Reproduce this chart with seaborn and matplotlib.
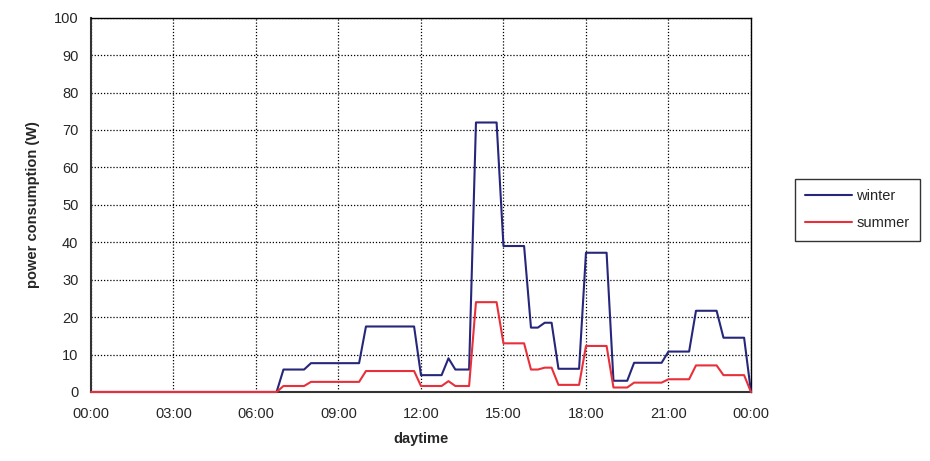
import numpy as np
import pandas as pd
import seaborn as sns
import matplotlib.pyplot as plt
from matplotlib.ticker import FixedLocator, FuncFormatter

# breakpoints of the daily profile (hour of day)
hours = [0, 6.75, 7, 7.75, 8, 9.75, 10, 11.75, 12, 12.75, 13, 13.25, 13.75,
         14, 14.75, 15, 15.75, 16, 16.25, 16.5, 16.75, 17, 17.75, 18, 18.75,
         19, 19.5, 19.75, 20.75, 21, 21.75, 22, 22.75, 23, 23.75, 24]
winter = [0, 0, 6, 6, 7.7, 7.7, 17.5, 17.5, 4.5, 4.5, 9, 6, 6,
          72, 72, 39, 39, 17.2, 17.2, 18.5, 18.5, 6.2, 6.2, 37.2, 37.2,
          3, 3, 7.8, 7.8, 10.8, 10.8, 21.7, 21.7, 14.5, 14.5, 0]
summer = [0, 0, 1.6, 1.6, 2.7, 2.7, 5.6, 5.6, 1.6, 1.6, 2.9, 1.6, 1.6,
          24, 24, 13, 13, 6, 6, 6.5, 6.5, 1.9, 1.9, 12.3, 12.3,
          1.2, 1.2, 2.5, 2.5, 3.4, 3.4, 7.1, 7.1, 4.5, 4.5, 0]

series = ["winter", "summer"]
colors = {"winter": "#26267a", "summer": "#e8303a"}

df = pd.concat([
    pd.DataFrame({"hour": hours, "power": winter, "season": "winter"}),
    pd.DataFrame({"hour": hours, "power": summer, "season": "summer"}),
], ignore_index=True)

sns.set_style("white")
plt.rcParams["font.family"] = ["Liberation Sans", "DejaVu Sans"]

fig = plt.figure(figsize=(9.3, 4.61), dpi=100)
ax = fig.add_axes([0.0978, 0.1497, 0.7097, 0.8119])

sns.lineplot(data=df, x="hour", y="power", hue="season", hue_order=series,
             palette=colors, linewidth=1.5, ax=ax, sort=False, estimator=None)
# keep the zero stretch visible on top of the axis line
for ln in ax.lines:
    ln.set_clip_on(False)
    ln.set_zorder(3)

ax.set_xlim(0, 24)
ax.set_ylim(0, 100)
ax.xaxis.set_major_locator(FixedLocator(np.arange(0, 25, 3)))
ax.xaxis.set_major_formatter(FuncFormatter(lambda v, p: "%02d:00" % (int(v) % 24)))
ax.set_yticks(np.arange(0, 101, 10))

ax.grid(True, color="black", linestyle=(0, (1, 1.5)), linewidth=0.9)
for s in ax.spines.values():
    s.set_color("black")
    s.set_linewidth(1.0)
ax.spines["left"].set_color("#333333")
ax.spines["bottom"].set_color("#333333")
ax.spines["left"].set_linewidth(1.5)
ax.spines["bottom"].set_linewidth(1.5)
ax.tick_params(axis="both", direction="out", length=5, width=1, color="#333333",
               labelsize=10.5, pad=4)
ax.tick_params(axis="x", pad=6)

ax.set_xlabel("daytime", fontsize=10.5, fontweight="bold", labelpad=8)
ax.set_ylabel("power consumption (W)", fontsize=10.5, fontweight="bold", labelpad=10)

leg = ax.legend(loc="center", bbox_to_anchor=(0.922, 0.545),
                bbox_transform=fig.transFigure, fancybox=False, frameon=True,
                edgecolor="black", fontsize=10.5, handlelength=3.2,
                handletextpad=0.3, borderpad=0.7, labelspacing=0.9)
leg.get_frame().set_linewidth(1.0)
leg.set_title(None)

fig.savefig("out.png", dpi=100)
